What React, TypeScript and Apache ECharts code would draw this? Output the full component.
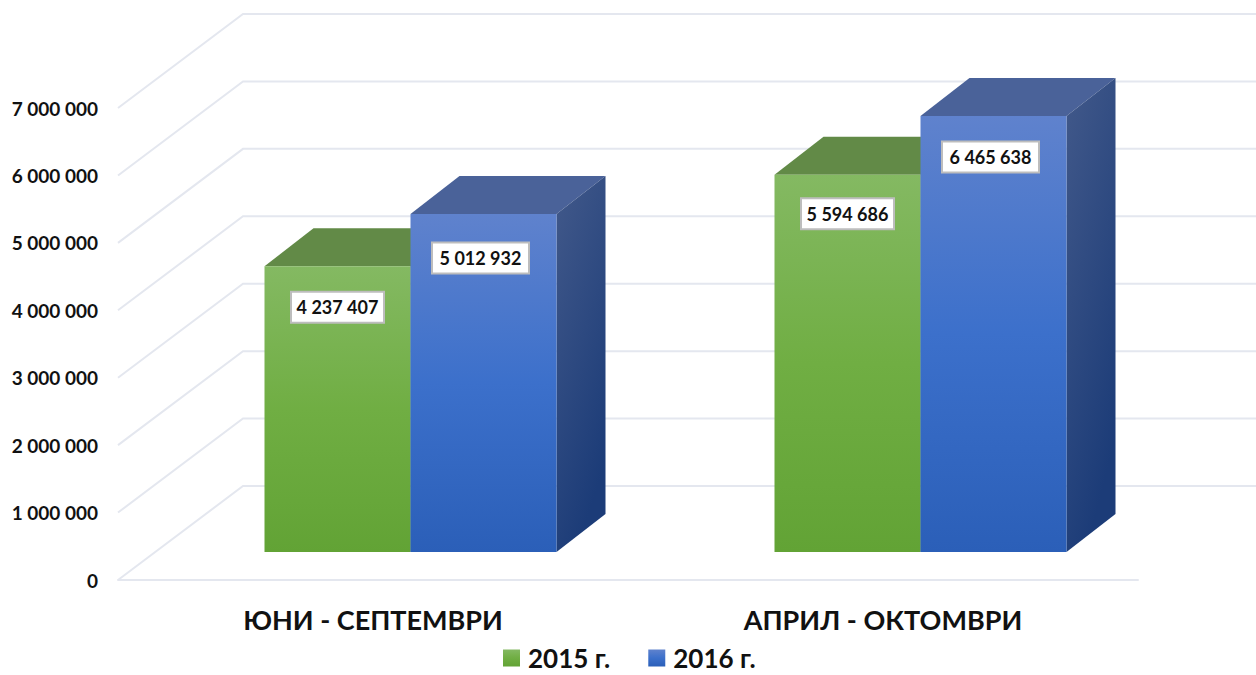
import React, { useEffect, useRef } from "react";
import * as echarts from "echarts";

const categories = ["ЮНИ - СЕПТЕМВРИ", "АПРИЛ - ОКТОМВРИ"];
const values2015 = [4237407, 5594686];
const values2016 = [5012932, 6465638];
const axisTicks = [0, 1000000, 2000000, 3000000, 4000000, 5000000, 6000000, 7000000];
const labelYOffsets2015 = [41, 39];
const labelYOffsets2016 = [44, 41];

const FONT = "Lato, 'Open Sans', sans-serif";
const LINE = "#e4e7ef";
const grad = (a: string, b: string, c: string) =>
  new echarts.graphic.LinearGradient(0, 0, 0, 1, [
    { offset: 0, color: a },
    { offset: 0.5, color: b },
    { offset: 1, color: c },
  ]);
const diag = (a: string, b: string) =>
  new echarts.graphic.LinearGradient(0, 0, 0.4, 1, [
    { offset: 0, color: a },
    { offset: 1, color: b },
  ]);
const fmt = (v: number) => String(v).replace(/\B(?=(\d{3})+$)/g, " ");

const SHIFT_X = 37.5;
const SHIFT_Y = 28;
const BAR_W = 146;
const DEPTH_X = 49;
const DEPTH_Y = 38;

function barSeries(
  name: string,
  values: number[],
  side: number,
  front: any,
  top: string,
  sideFace: any,
  offsets: number[],
  boxW: number,
  labelDx: number
) {
  return {
    type: "custom",
    name,
    z: 5,
    itemStyle: { color: front },
    data: values.map((v, i) => [i, v]),
    encode: { x: 0, y: 1 },
    renderItem: (params: any, api: any) => {
      const i = api.value(0);
      const v = api.value(1);
      const t = api.coord([i, v]);
      const b = api.coord([i, 0]);
      const x0 = t[0] + SHIFT_X + side * BAR_W;
      const x1 = x0 + BAR_W;
      const yt = t[1] - SHIFT_Y;
      const yb = b[1] - SHIFT_Y;
      const cx = (x0 + x1) / 2 + labelDx;
      const cy = yt + offsets[params.dataIndex];
      const txt = fmt(v);
      return {
        type: "group",
        children: [
          {
            type: "polygon",
            shape: { points: [[x0, yt], [x0 + DEPTH_X, yt - DEPTH_Y], [x1 + DEPTH_X, yt - DEPTH_Y], [x1, yt]] },
            style: { fill: top },
          },
          {
            type: "polygon",
            shape: { points: [[x1, yt], [x1 + DEPTH_X, yt - DEPTH_Y], [x1 + DEPTH_X, yb - DEPTH_Y], [x1, yb]] },
            style: { fill: sideFace },
          },
          {
            type: "rect",
            shape: { x: x0, y: yt, width: BAR_W, height: yb - yt },
            style: { fill: front },
          },
          {
            type: "rect",
            shape: { x: cx - boxW / 2, y: cy - 15.5, width: boxW, height: 31 },
            style: { fill: "#ffffff", stroke: "#bdbdbd", lineWidth: 2 },
          },
          {
            type: "text",
            style: {
              x: cx,
              y: cy,
              text: txt,
              align: "center",
              verticalAlign: "middle",
              fill: "#111111",
              font: `bold 18px ${FONT}`,
            },
          },
        ],
      };
    },
  };
}

export default function App() {
  const ref = useRef<HTMLDivElement>(null);
  useEffect(() => {
    const chart = echarts.init(ref.current!, null, { renderer: "svg" });
    chart.setOption({
      animation: false,
      backgroundColor: "#ffffff",
      grid: { left: 118, top: 108, width: 1020, height: 472 },
      legend: {
        data: ["2015 г.", "2016 г."],
        left: 503,
        top: 645,
        padding: 0,
        icon: "rect",
        itemWidth: 17,
        itemHeight: 17,
        itemGap: 38,
        textStyle: {
          fontFamily: FONT,
          fontWeight: "bold",
          fontSize: 26,
          lineHeight: 26,
          color: "#111111",
          padding: [0, 0, 0, 3],
        },
      },
      xAxis: {
        type: "category",
        data: categories,
        axisLine: { lineStyle: { color: LINE, width: 2 } },
        axisTick: { show: false },
        axisLabel: { margin: 26, fontFamily: FONT, fontWeight: "bold", fontSize: 27, color: "#111111" },
      },
      yAxis: {
        type: "value",
        min: 0,
        max: 7000000,
        interval: 1000000,
        axisLine: { show: false },
        axisTick: { show: false },
        splitLine: { show: false },
        axisLabel: {
          margin: 20,
          fontFamily: FONT,
          fontWeight: "bold",
          fontSize: 19,
          color: "#111111",
          formatter: (v: number) => fmt(v),
        },
      },
      series: [
        {
          type: "custom",
          z: 1,
          silent: true,
          data: axisTicks.map((v) => [0, v]),
          encode: { x: 0, y: 1 },
          renderItem: (params: any, api: any) => {
            const y = api.coord([0, api.value(1)])[1];
            const x = params.coordSys.x;
            return {
              type: "polyline",
              shape: { points: [[x, y], [x + 125, y - 94], [1256, y - 94]] },
              style: { stroke: LINE, lineWidth: 2, fill: "none" },
            };
          },
        },
        barSeries(
          "2015 г.",
          values2015,
          -1,
          grad("#84b962", "#70ae43", "#62a335"),
          "#628a47",
          "#4c7a30",
          labelYOffsets2015,
          93,
          0
        ),
        barSeries(
          "2016 г.",
          values2016,
          0,
          grad("#5f82cd", "#3c70cb", "#2b5fb8"),
          "#4a6299",
          diag("#42598a", "#1c3c78"),
          labelYOffsets2016,
          97,
          -3
        ),
      ],
    });
    return () => chart.dispose();
  }, []);
  return <div ref={ref} style={{ position: "absolute", left: 0, top: 0, width: 1256, height: 675 }} />;
}
